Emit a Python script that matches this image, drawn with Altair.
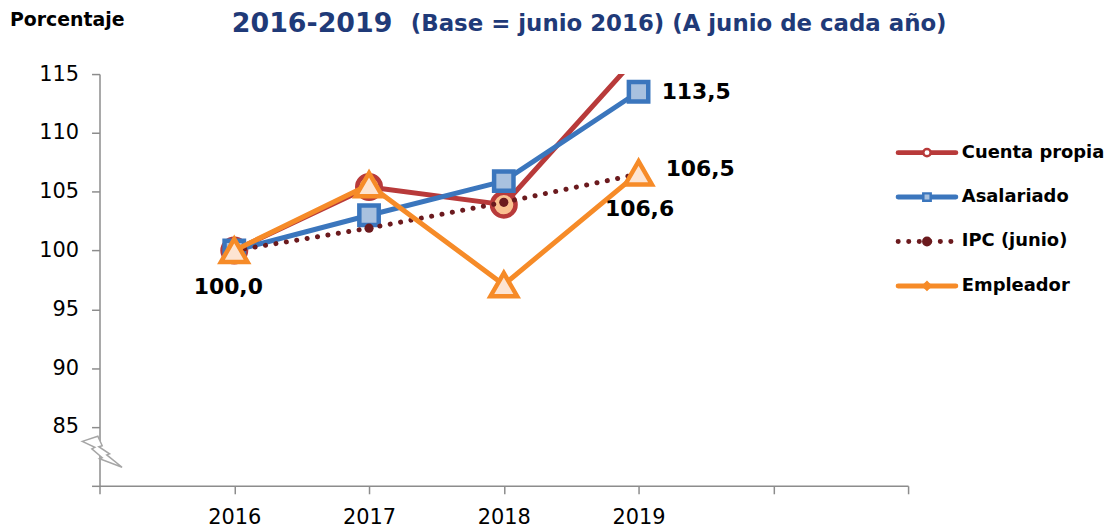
import altair as alt
import pandas as pd

# ---------------- data ----------------
years = [2016, 2017, 2018, 2019]
series_names = ["Cuenta propia", "Asalariado", "IPC (junio)", "Empleador"]
cuenta_propia = [100.0, 105.4, 103.9, 116.6]
asalariado = [100.0, 103.0, 105.9, 113.5]
ipc_junio = [100.0, 101.9, 104.1, 106.5]
empleador = [100.0, 105.6, 97.1, 106.6]
y_tick_values = [80, 85, 90, 95, 100, 105, 110, 115]
x_tick_values = [2015, 2016, 2017, 2018, 2019, 2020, 2021]
x_tick_labels = ["2016", "2017", "2018", "2019"]
title_main = "2016-2019"
title_sub = "(Base = junio 2016) (A junio de cada año)"
y_caption = "Porcentaje"
break_point_x = [2015.02]
break_point_y = [82.9]

values_by_series = dict(zip(series_names, [cuenta_propia, asalariado, ipc_junio, empleador]))
rows = []
for s, vals in values_by_series.items():
    for yr, v in zip(years, vals):
        rows.append({"serie": s, "anio": yr, "valor": v,
                     "etiqueta": f"{v:.1f}".replace(".", ",")})
df = pd.DataFrame(rows)

# ---------------- styles ----------------
FONT = "DejaVu Sans"
AXIS_GRAY = "#8c8c8c"
style = {
    "Cuenta propia": dict(line="#b83a3a", fill="#fac090", shape="circle", size=560, msw=4.5, dash=[1, 0]),
    "Asalariado": dict(line="#3b76bd", fill="#a8c1df", shape="square", size=380, msw=4.5, dash=[1, 0]),
    "IPC (junio)": dict(line="#6b1a1e", fill="#6b1a1e", shape="circle", size=85, msw=0, dash=[0.1, 10.5]),
    "Empleador": dict(line="#f68b28", fill="#fde4d2", shape="triangle-up", size=720, msw=4.5, dash=[1, 0]),
}

x_labels_js = "[" + ",".join(f"'{l}'" for l in x_tick_labels) + "]"
x_enc = alt.X(
    "anio:Q",
    scale=alt.Scale(domain=[x_tick_values[0], x_tick_values[-1]], nice=False, zero=False),
    axis=alt.Axis(values=x_tick_values, format="d",
                  labelExpr=f"indexof({x_labels_js}, datum.label) >= 0 ? datum.label : ''",
                  title=None, grid=False, domainColor=AXIS_GRAY, tickColor=AXIS_GRAY,
                  domainWidth=1.5, tickWidth=1.5, tickSize=8, labelFont=FONT, labelFontSize=21,
                  labelColor="black", labelPadding=13),
)
y_enc = alt.Y(
    "valor:Q",
    scale=alt.Scale(domain=[y_tick_values[0], y_tick_values[-1]], nice=False, zero=False),
    axis=alt.Axis(values=y_tick_values, labelExpr="datum.value == 80 ? '' : datum.label",
                  title=None, grid=False, domainColor=AXIS_GRAY, tickColor=AXIS_GRAY,
                  domainWidth=1.5, tickWidth=1.5, tickSize=8, labelFont=FONT, labelFontSize=21,
                  labelColor="black", labelPadding=13),
)

base = alt.Chart(df)
layers = []
for s in series_names:
    st = style[s]
    sub = base.transform_filter(alt.datum.serie == s)
    line_kw = dict(color=st["line"], strokeWidth=5, clip=True, strokeJoin="round")
    if s == "IPC (junio)":
        line_kw.update(strokeDash=st["dash"], strokeCap="round")
    layers.append(sub.mark_line(**line_kw).encode(x=x_enc, y=y_enc))
    layers.append(sub.mark_point(shape=st["shape"], filled=True, fill=st["fill"],
                                 stroke=st["line"], strokeWidth=st["msw"], size=st["size"],
                                 opacity=1, clip=True).encode(x=x_enc, y=y_enc))

# data labels
label_specs = [("Asalariado", 2016, -6, 37), ("Asalariado", 2019, 58, 0),
               ("IPC (junio)", 2019, 62, -5), ("Empleador", 2019, 1, 36)]
for s, yr, dx, dy in label_specs:
    layers.append(
        base.transform_filter((alt.datum.serie == s) & (alt.datum.anio == yr))
        .mark_text(dx=dx, dy=dy, font=FONT, fontSize=22, fontWeight="bold", color="black",
                   align="center", baseline="middle")
        .encode(x=x_enc, y=y_enc, text="etiqueta:N")
    )

# axis break symbol
bolt = ("M-1,-0.52 L-0.22,-0.78 L0,-0.3 L-0.17,-0.25 L0.37,0.11 L0.23,0.16 L1,0.78 "
        "L-0.13,0.35 L0,0.3 L-0.52,-0.14 L-0.37,-0.22 Z")
break_df = pd.DataFrame({"anio": break_point_x, "valor": break_point_y})
layers.append(alt.Chart(break_df).mark_point(shape=bolt, filled=True, fill="white", stroke="#a6a6a6",
                                             strokeWidth=1.5, size=1600, opacity=1)
              .encode(x=x_enc, y=y_enc))

# titles
def text_layer(txt, x, y, size, color, weight="bold"):
    return alt.Chart(pd.DataFrame({"t": [txt]})).mark_text(
        font=FONT, fontSize=size, fontWeight=weight, color=color, align="left",
        baseline="alphabetic").encode(text="t:N", x=alt.value(x), y=alt.value(y))

layers.append(text_layer(y_caption, -90, -48, 19, "black"))
layers.append(text_layer(title_main, 133, -42, 27, "#1f3a78"))
layers.append(text_layer(title_sub, 313, -43, 23, "#1f3a78"))

main = alt.layer(*layers)

# legend
legend_df = pd.DataFrame({"serie": series_names})
ly = alt.Y("serie:N", scale=alt.Scale(type="point", domain=series_names, range=[79, 213], padding=0),
           axis=None)
lb = alt.Chart(legend_df)
leg_rule = lb.mark_rule(strokeWidth=5, strokeCap="round").encode(
    x=alt.value(803), x2=alt.value(861), y=ly,
    color=alt.Color("serie:N", scale=alt.Scale(domain=series_names,
                                               range=[style[s]["line"] for s in series_names]), legend=None),
    strokeDash=alt.StrokeDash("serie:N", scale=alt.Scale(domain=series_names,
                                                         range=[style[s]["dash"] for s in series_names]),
                              legend=None),
)
leg_pt = lb.mark_point(filled=True, opacity=1, strokeWidth=2.5, size=55).encode(
    x=alt.value(832), y=ly,
    shape=alt.Shape("serie:N", scale=alt.Scale(domain=series_names,
                                               range=["circle", "square", "circle", "diamond"]), legend=None),
    fill=alt.Fill("serie:N", scale=alt.Scale(domain=series_names,
                                             range=["#ffffff", "#a8c1df", "#6b1a1e", "#f68b28"]), legend=None),
    stroke=alt.Stroke("serie:N", scale=alt.Scale(domain=series_names,
                                                 range=[style[s]["line"] for s in series_names]), legend=None),
)
leg_txt = lb.mark_text(align="left", baseline="middle", font=FONT, fontSize=18, fontWeight="bold",
                       color="black").encode(x=alt.value(867), y=ly, text="serie:N")
legend = alt.layer(leg_rule, leg_pt, leg_txt)

chart = (
    alt.layer(main, legend)
    .resolve_scale(y="independent")
    .properties(width=813, height=414, autosize=alt.AutoSizeParams(type="none"),
                padding={"left": 92, "top": 65, "right": 200, "bottom": 44})
    .configure_view(strokeWidth=0)
)

chart.save("out.html", embed_options={"renderer": "svg", "actions": False})
